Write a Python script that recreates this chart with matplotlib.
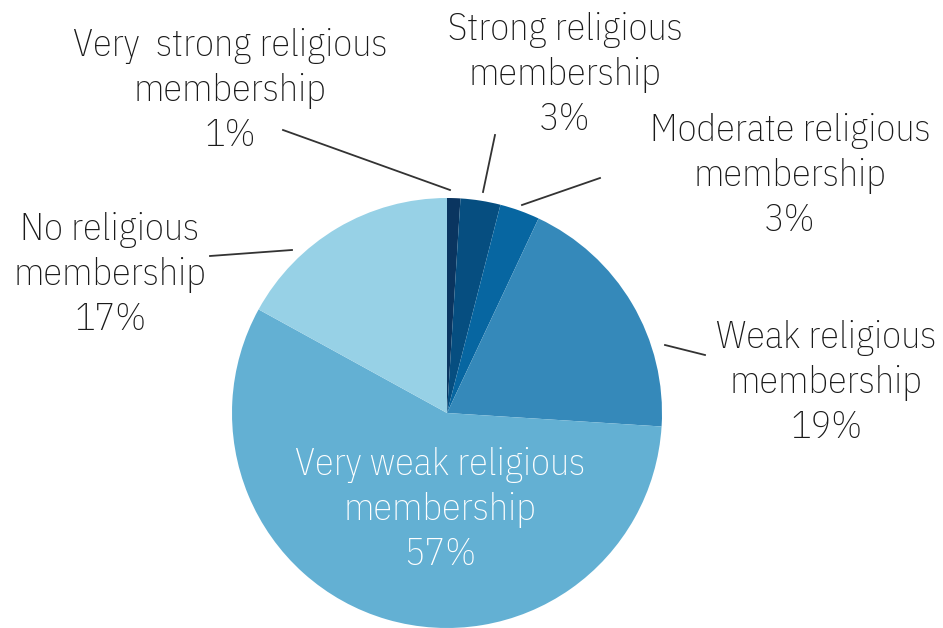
import matplotlib
matplotlib.use("Agg")
import matplotlib.pyplot as plt

categories = ["Very  strong religious\nmembership", "Strong religious\nmembership",
              "Moderate religious\nmembership", "Weak religious\nmembership",
              "Very weak religious\nmembership", "No religious\nmembership"]
values = [1, 3, 3, 19, 57, 17]
colors = ["#0a3560", "#064e80", "#0766a1", "#3589ba", "#63b0d3", "#97d1e6"]

W, H = 943, 628
fig = plt.figure(figsize=(W / 100, H / 100), dpi=100)
ax = fig.add_axes([0, 0, 1, 1])

cx, cy, R = 447, H - 413, 215
ax.pie(values, colors=colors, startangle=90, counterclock=False,
       center=(cx, cy), radius=R, frame=True,
       wedgeprops=dict(linewidth=0))
ax.set_xlim(0, W)
ax.set_ylim(0, H)
ax.set_aspect("equal")
ax.axis("off")

FONT = ["IBM Plex Sans Condensed", "Barlow Semi Condensed", "DejaVu Sans"]
fs = 27.5

# label layout in pixels: text centre (x, y) and leader line (x0, y0, x1, y1)
layout = [
    ((230, 91), (283, 130, 450, 190)),
    ((565, 75), (495, 135, 483, 192)),
    ((790, 176), (600, 178, 522, 205)),
    ((826, 383), (705, 355, 665, 345)),
    ((440, 510), None),
    ((110, 275), (210, 256, 292, 250)),
]

for i, (cat, val) in enumerate(zip(categories, values)):
    (tx, ty), line = layout[i]
    col = "white" if i == 4 else "#1a1a1a"
    ax.text(tx, H - ty, f"{cat}\n{val}%", ha="center", va="center",
            fontsize=fs, family=FONT, fontweight="light", color=col,
            linespacing=1.33)
    if line is not None:
        x0, y0, x1, y1 = line
        ax.plot([x0, x1], [H - y0, H - y1], color="#333333", lw=1.3)

fig.savefig("out.png", dpi=100)
